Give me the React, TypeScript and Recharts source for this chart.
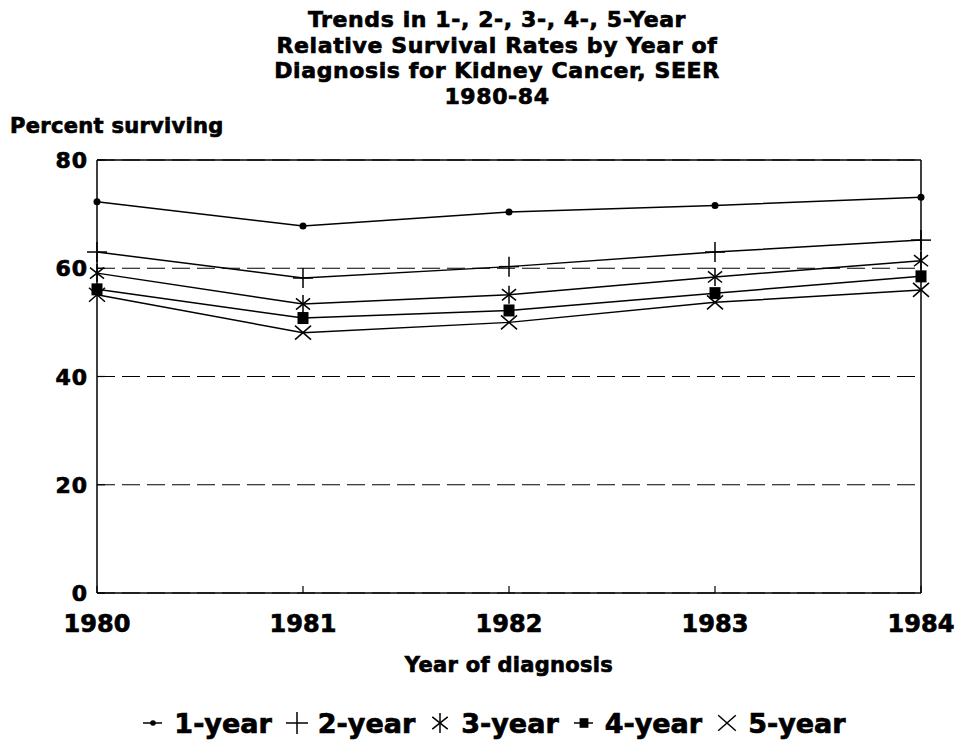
import React from 'react';
import {
  LineChart,
  Line,
  XAxis,
  YAxis,
  CartesianGrid,
  ReferenceLine,
  Legend,
} from 'recharts';

// values
const years = [1980, 1981, 1982, 1983, 1984];
const oneYear = [72.3, 67.8, 70.4, 71.6, 73.1];
const twoYear = [63.0, 58.2, 60.3, 63.0, 65.2];
const threeYear = [59.1, 53.4, 55.1, 58.4, 61.4];
const fourYear = [56.1, 50.8, 52.2, 55.4, 58.5];
const fiveYear = [55.1, 48.1, 50.0, 53.7, 56.0];
const yTicks = [0, 20, 40, 60, 80];

const titleLines = [
  'Trends in 1-, 2-, 3-, 4-, 5-Year',
  'Relative Survival Rates by Year of',
  'Diagnosis for Kidney Cancer, SEER',
  '1980-84',
];

const series = [
  { key: 'y1', name: '1-year', values: oneYear, shape: 'dot' },
  { key: 'y2', name: '2-year', values: twoYear, shape: 'plus' },
  { key: 'y3', name: '3-year', values: threeYear, shape: 'star' },
  { key: 'y4', name: '4-year', values: fourYear, shape: 'square' },
  { key: 'y5', name: '5-year', values: fiveYear, shape: 'cross' },
];

const data = years.map((year, i) => {
  const row: any = { year };
  series.forEach((s) => (row[s.key] = s.values[i]));
  return row;
});

const FONT = '"DejaVu Sans", sans-serif';
// printed type is heavier than DejaVu bold, thicken it a bit
const heavy = { fontFamily: FONT, fontWeight: 'bold' as const, fill: '#000', stroke: '#000', strokeWidth: 0.7 };

const Marker = ({ shape, cx, cy, s = 1 }: any) => {
  const st = { stroke: '#000', strokeWidth: 1.5 };
  if (shape === 'dot') return <circle cx={cx} cy={cy} r={3.5 * s} fill="#000" />;
  if (shape === 'plus')
    return (
      <g {...st}>
        <line x1={cx - 10 * s} y1={cy} x2={cx + 10 * s} y2={cy} />
        <line x1={cx} y1={cy - 10 * s} x2={cx} y2={cy + 10 * s} />
      </g>
    );
  if (shape === 'star') {
    const r = 9 * s;
    return (
      <g {...st}>
        <line x1={cx} y1={cy - r} x2={cx} y2={cy + r} />
        <line x1={cx - r * 0.78} y1={cy - r * 0.62} x2={cx + r * 0.78} y2={cy + r * 0.62} />
        <line x1={cx - r * 0.78} y1={cy + r * 0.62} x2={cx + r * 0.78} y2={cy - r * 0.62} />
      </g>
    );
  }
  if (shape === 'square')
    return <rect x={cx - 5.5 * s} y={cy - 6 * s} width={11 * s} height={12 * s} fill="#000" />;
  return (
    <g {...st}>
      <line x1={cx - 8 * s} y1={cy - 7 * s} x2={cx + 8 * s} y2={cy + 7 * s} />
      <line x1={cx - 8 * s} y1={cy + 7 * s} x2={cx + 8 * s} y2={cy - 7 * s} />
    </g>
  );
};

const XTick = ({ x, y, payload }: any) => (
  <g>
    <line x1={x} y1={y} x2={x} y2={y - 7} stroke="#000" strokeWidth={1.2} />
    <text x={x} y={y + 39} textAnchor="middle" fontSize={24} {...heavy}>
      {payload.value}
    </text>
  </g>
);

const YTick = ({ x, y, payload }: any) => (
  <g>
    <line x1={x} y1={y} x2={x + 8} y2={y} stroke="#000" strokeWidth={1.2} />
    <text x={x - 9} y={y + 8} textAnchor="end" fontSize={22} letterSpacing={1} {...heavy}>
      {payload.value}
    </text>
  </g>
);

const LegendBox = () => (
  <div
    style={{
      height: 36,
      display: 'flex',
      justifyContent: 'center',
      alignItems: 'center',
      gap: 12,
      paddingLeft: 25,
      fontFamily: FONT,
      fontWeight: 'bold',
      fontSize: 27,
      color: '#000',
      WebkitTextStroke: '0.7px #000',
    }}
  >
    {series.map((s) => (
      <div key={s.key} style={{ display: 'flex', alignItems: 'center' }}>
        <svg width={26} height={24} style={{ marginRight: 8 }}>
          {(s.shape === 'dot' || s.shape === 'square') && (
            <line x1={3} y1={12} x2={22} y2={12} stroke="#000" strokeWidth={1.5} />
          )}
          <Marker shape={s.shape} cx={13} cy={12} s={s.shape === 'dot' || s.shape === 'square' ? 0.8 : 1.1} />
        </svg>
        <span>{s.name}</span>
      </div>
    ))}
  </div>
);

export default function App() {
  return (
    <div style={{ position: 'absolute', left: 0, top: 0, background: '#fff' }}>
      <LineChart width={961} height={749} data={data} margin={{ top: 160, right: 40, bottom: 8, left: 0 }}>
        <CartesianGrid vertical={false} stroke="#000" strokeWidth={1.2} strokeDasharray="18 7" />
        <XAxis
          dataKey="year"
          type="number"
          domain={[1980, 1984]}
          ticks={years}
          height={112}
          tickSize={0}
          tickMargin={0}
          tickLine={false}
          axisLine={{ stroke: '#000', strokeWidth: 1.5 }}
          tick={<XTick />}
          interval={0}
        />
        <YAxis
          domain={[0, 80]}
          ticks={yTicks}
          width={97}
          tickSize={0}
          tickMargin={0}
          tickLine={false}
          axisLine={{ stroke: '#000', strokeWidth: 1.5 }}
          tick={<YTick />}
          interval={0}
        />
        <ReferenceLine y={80} stroke="#000" strokeWidth={1.5} />
        <ReferenceLine x={1984} stroke="#000" strokeWidth={1.5} />
        {series.map((s) => (
          <Line
            key={s.key}
            dataKey={s.key}
            name={s.name}
            type="linear"
            stroke="#000"
            strokeWidth={1.5}
            isAnimationActive={false}
            dot={(p: any) => <Marker key={`${s.key}-${p.index}`} shape={s.shape} cx={p.cx} cy={p.cy} />}
          />
        ))}
        <Legend verticalAlign="bottom" wrapperStyle={{ left: 0, width: 961 }} content={<LegendBox />} />
        {titleLines.map((t, i) => (
          <text key={t} x={497} y={27 + i * 25.5} textAnchor="middle" fontSize={22} letterSpacing={0.6} {...heavy}>
            {t}
          </text>
        ))}
        <text x={10} y={133} fontSize={21} letterSpacing={0.3} {...heavy}>
          Percent surviving
        </text>
        <text x={509} y={672} textAnchor="middle" fontSize={21} letterSpacing={0.3} {...heavy}>
          Year of diagnosis
        </text>
      </LineChart>
    </div>
  );
}
